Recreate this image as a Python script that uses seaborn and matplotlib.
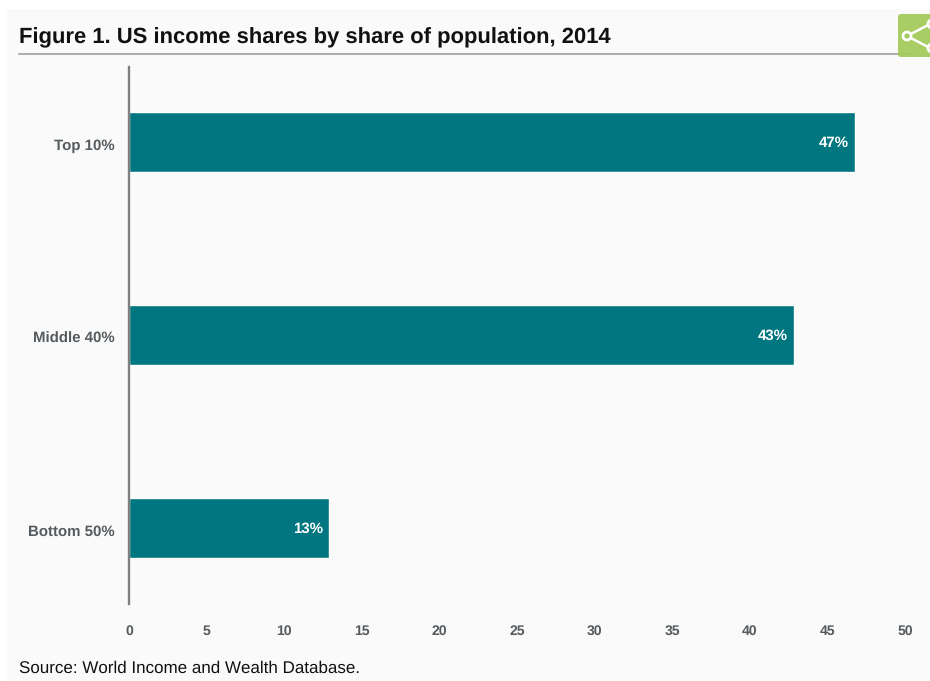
import matplotlib
matplotlib.use("Agg")
import matplotlib.pyplot as plt
from matplotlib.patches import FancyBboxPatch, Circle, Rectangle
from matplotlib.lines import Line2D
from matplotlib.transforms import ScaledTranslation
import pandas as pd
import seaborn as sns

groups = ["Top 10%", "Middle 40%", "Bottom 50%"]
income_share = [46.8, 42.85, 12.9]
x_ticks = [0, 5, 10, 15, 20, 25, 30, 35, 40, 45, 50]

W, H = 930, 681
BAR = "#007680"
PANEL = "#fafafa"
GREY = "#555b5e"
BADGE = "#a3cb5b"

sns.set_theme(style="white")
plt.rcParams["font.family"] = ["Liberation Sans", "DejaVu Sans"]
plt.rcParams["text.hinting"] = "no_hinting"
plt.rcParams["text.hinting_factor"] = 1

fig = plt.figure(figsize=(W / 100, H / 100), dpi=100, facecolor="white")


def fx(px):
    return px / W


def fy(py):
    return 1 - py / H


# Light panel behind the whole figure body
fig.add_artist(Rectangle((fx(7), fy(681)), fx(923), 672 / H, zorder=-5,
                         transform=fig.transFigure, facecolor=PANEL, edgecolor="none"))

ax = fig.add_axes([fx(129), fy(604), fx(776), (604 - 67) / H])
ax.set_facecolor("none")

df = pd.DataFrame({"group": groups, "share": income_share})
sns.barplot(data=df, y="group", x="share", orient="h", color=BAR, saturation=1,
            width=0.31, ax=ax)

ax.set_xlim(0, 50)
ax.set_ylim(2.394, -0.389)
ax.set_xlabel("")
ax.set_ylabel("")
ax.set_xticks(x_ticks)
for side in ("top", "right", "bottom"):
    ax.spines[side].set_visible(False)
ax.spines["left"].set_color("#808080")
ax.spines["left"].set_linewidth(1.7)
ax.tick_params(axis="x", length=0, pad=15, labelsize=10.4, labelcolor=GREY)
ax.tick_params(axis="y", length=0, pad=10.5, labelsize=10.45, labelcolor=GREY)
for lab in ax.get_xticklabels():
    lab.set_fontweight("bold")
for lab in ax.get_yticklabels():
    lab.set_fontweight("bold")
    lab.set_transform(lab.get_transform() + ScaledTranslation(0, -2 / 100, fig.dpi_scale_trans))

# Value labels inside the bar ends
value_labels = ax.bar_label(ax.containers[0], fmt="%.0f%%", padding=-26, color="white",
                            fontsize=10.7, fontweight="bold")
for label in value_labels:
    ox, oy = label.xyann
    label.xyann = (ox, oy - 0.4)

# Heading and rule
fig.text(fx(19), fy(43), "Figure 1. US income shares by share of population, 2014",
         fontsize=15.85, fontweight="bold", color="#111111", ha="left", va="baseline")
fig.add_artist(Line2D([fx(19), fx(914)], [fy(53.5), fy(53.5)],
                      transform=fig.transFigure, color="#aaaaaa", linewidth=1.4))

# Share badge, running off the right edge
overlay = fig.add_axes([0, 0, 1, 1], facecolor="none", zorder=5)
overlay.set_xlim(0, W)
overlay.set_ylim(H, 0)
overlay.axis("off")
overlay.add_patch(FancyBboxPatch((898, 14), 50, 43,
                                 boxstyle="round,pad=0,rounding_size=3",
                                 facecolor=BADGE, edgecolor="none", alpha=0.94))
overlay.plot([907, 932], [36, 23], color="white", lw=1.8, zorder=2)
overlay.plot([907, 932], [36, 49], color="white", lw=1.8, zorder=2)
for cx, cy, r in [(907, 36, 4), (932, 24, 4), (932, 48, 4)]:
    overlay.add_patch(Circle((cx, cy), r, facecolor=BADGE, edgecolor="white",
                             linewidth=2, zorder=3))

# Source note
fig.text(fx(19), fy(673), "Source: World Income and Wealth Database.",
         fontsize=12.4, color="#111111", ha="left", va="baseline")

fig.savefig("out.png", dpi=100, facecolor="white")
